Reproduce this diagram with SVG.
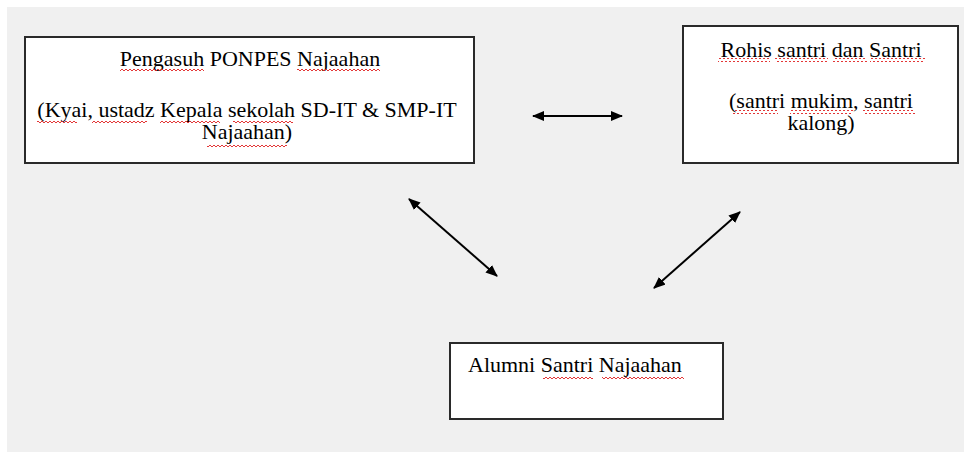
<svg xmlns="http://www.w3.org/2000/svg" width="964" height="452" viewBox="0 0 964 452">
<defs>
<style>
.box{fill:#ffffff;stroke:#2a2a2a;stroke-width:2}
.t{font-family:"Liberation Serif","Times New Roman",serif;font-size:22px;fill:#000}
.c{text-anchor:middle}
.arr{stroke:#000;stroke-width:2;fill:none;marker-start:url(#ah);marker-end:url(#ah)}
.sq{fill:url(#wave)}
</style>
<marker id="ah" viewBox="0 0 12 10" refX="11" refY="5" markerWidth="12" markerHeight="10" markerUnits="userSpaceOnUse" orient="auto-start-reverse">
<path d="M0,0 L12,5 L0,10 Z" fill="#000"/>
</marker>
<pattern id="wave" x="0" y="0" width="4" height="4" patternUnits="userSpaceOnUse">
<path d="M0,3 L2,1 L4,3" fill="none" stroke="#e02020" stroke-width="0.9"/>
</pattern>
</defs>
<rect x="0" y="0" width="964" height="452" fill="#ffffff"/>
<rect x="7" y="7" width="957" height="445" fill="#f0f0f0"/>

<g id="connectors">
<line class="arr" x1="533" y1="116" x2="622" y2="116"/>
<line class="arr" x1="409" y1="199" x2="497" y2="276"/>
<line class="arr" x1="740" y1="212" x2="654" y2="288"/>
</g>

<g id="pengasuh">
<rect class="box" x="25" y="37" width="449" height="126"/>
<text class="t c" x="250" y="66">Pengasuh PONPES Najaahan</text>
<text class="t c" x="247" y="117">(Kyai, ustadz Kepala sekolah SD-IT &amp; SMP-IT</text>
<text class="t c" x="247" y="139">Najaahan)</text>
<rect class="sq" x="120" y="68" width="84" height="4"/>
<rect class="sq" x="297" y="68" width="83" height="4"/>
<rect class="sq" x="37" y="120" width="40" height="4"/>
<rect class="sq" x="92" y="120" width="55" height="4"/>
<rect class="sq" x="160" y="120" width="60" height="4"/>
<rect class="sq" x="233" y="120" width="60" height="4"/>
<rect class="sq" x="207" y="143" width="80" height="4"/>
</g>

<g id="rohis">
<rect class="box" x="683" y="26" width="275" height="137"/>
<text class="t c" x="821" y="57">Rohis santri dan Santri</text>
<text class="t c" x="821" y="108">(santri mukim, santri</text>
<text class="t c" x="821" y="130">kalong)</text>
<rect class="sq" x="718" y="58" width="52" height="4"/>
<rect class="sq" x="775" y="58" width="53" height="4"/>
<rect class="sq" x="833" y="58" width="34" height="4"/>
<rect class="sq" x="870" y="58" width="55" height="4"/>
<rect class="sq" x="733" y="110" width="45" height="4"/>
<rect class="sq" x="790" y="110" width="63" height="4"/>
<rect class="sq" x="863" y="110" width="52" height="4"/>
</g>

<g id="alumni">
<rect class="box" x="450" y="343" width="273" height="76"/>
<text class="t" x="468" y="372">Alumni Santri Najaahan</text>
<rect class="sq" x="543" y="375" width="50" height="4"/>
<rect class="sq" x="602" y="375" width="82" height="4"/>
</g>
</svg>
